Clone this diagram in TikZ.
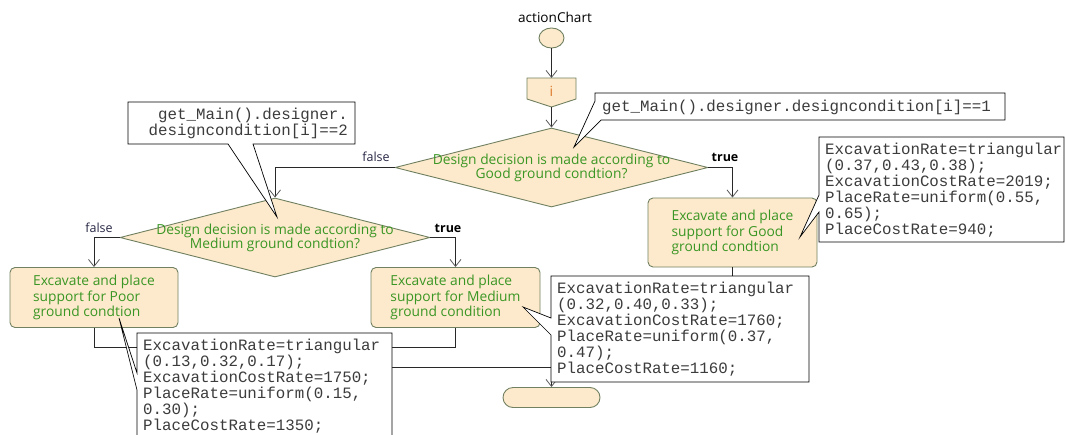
\documentclass[tikz,border=0pt]{standalone}
\usepackage{fontspec}
\setmainfont{Open Sans}
\newfontfamily\monof{Liberation Mono}
\usetikzlibrary{shapes.geometric,arrows.meta}
\definecolor{fillc}{RGB}{253,234,204}
\definecolor{bordc}{RGB}{112,128,96}
\definecolor{txtg}{RGB}{58,150,36}
\definecolor{linec}{RGB}{40,40,40}
\definecolor{arrc}{RGB}{90,90,90}
\definecolor{falsec}{RGB}{40,40,70}
\definecolor{iorange}{RGB}{220,120,40}
\definecolor{ctxt}{RGB}{60,60,60}
\begin{document}
\begin{tikzpicture}[x=1pt,y=-1pt,
  flowline/.style={draw=linec, line width=0.9pt},
  arr/.style={flowline, -{Straight Barb[length=7pt,width=11pt,line width=0.8pt,color=arrc]}},
  shapebase/.style={draw=bordc, fill=fillc, line width=0.9pt},
  actionbox/.style={shapebase, rounded corners=5pt, minimum width=168, minimum height=60, inner sep=0, align=left, text=txtg, font=\fontsize{13.8}{15.8}\selectfont},
  decision/.style={shapebase, diamond, inner sep=0, minimum width=313, minimum height=79},
  dtext/.style={text=txtg, align=center, font=\fontsize{13.8}{14.5}\selectfont},
  lbl/.style={font=\fontsize{12.5}{14}\selectfont},
  callout/.style={draw=black, fill=white, line width=0.7pt},
  ctext/.style={font=\monof\fontsize{15.8}{16}\selectfont, text=ctxt, align=left, inner sep=0}
]
\useasboundingbox (0,0) rectangle (1065,434);
\clip (0,0) rectangle (1065,434);

% title and start
\node[font=\fontsize{13.6}{15}\selectfont] (title) at (555,17) {actionChart};
\node[shapebase, ellipse, minimum width=25, minimum height=20, inner sep=0] (start) at (551.5,38) {};

% i box
\path[shapebase] (527,78) -- (576,78) -- (576,99) -- (551.5,107) -- (527,99) -- cycle;
\coordinate (iTop) at (551.5,78);
\coordinate (iBot) at (551.5,107);
\node[text=iorange, font=\fontsize{14}{16}\selectfont] (ival) at (551.5,91) {i};

% decisions
\node[decision] (d1) at (551.5,167.5) {};
\node[dtext] (d1t) at (551.5,168) {Design decision is made according to\\Good ground condtion?};
\node[decision, minimum width=310] (d2) at (275,237.5) {};
\node[dtext] (d2t) at (275,238) {Design decision is made according to\\Medium ground condtion?};

% action boxes
\node[actionbox] (poor) at (94,297.5) {Excavate and place\\support for Poor\\ground condtion};
\node[actionbox, minimum width=169] (medium) at (455.5,297.5) {Excavate and place\\support for Medium\\ground condition};
\node[actionbox, minimum width=169, minimum height=69] (good) at (732.5,232.5) {Excavate and place\\support for Good\\ground condtion};

% end
\node[shapebase, rounded corners=10pt, minimum width=97, minimum height=20, inner sep=0] (end) at (551.5,397.5) {};

% merge points
\coordinate (m1) at (275,347);
\coordinate (m2) at (275,367);
\coordinate (m3) at (551.5,367);

% connectors
\draw[arr] (start.south) -- (iTop);
\draw[arr] (iBot) -- (d1.north);
\draw[arr] (d1.west) -| (d2.north);
\draw[arr] (d1.east) -| (good.north);
\draw[arr] (d2.west) -| (poor.north);
\draw[arr] (d2.east) -| (medium.north);
\draw[flowline] (poor.south) |- (m1);
\draw[flowline] (medium.south) |- (m1);
\draw[flowline] (m1) -- (m2);
\draw[flowline] (good.south) |- (m3);
\draw[arr] (m2) -| (end.north);

% branch labels
\node[lbl, text=falsec] (f1) at (376,157) {false};
\node[lbl, font=\fontsize{12.5}{14}\selectfont\bfseries] (t1) at (725,157) {true};
\node[lbl, text=falsec] (f2) at (99,228) {false};
\node[lbl, font=\fontsize{12.5}{14}\selectfont\bfseries] (t2) at (448,228) {true};

% callouts
\draw[callout] (595,93) -- (1005,93) -- (1005,120) -- (601,120) -- (574,147) -- (595,101) -- cycle;
\node[ctext, anchor=west] (c1t) at (602,107) {get\_Main().designer.designcondition[i]==1};

\draw[callout] (128,102) -- (355,102) -- (355,144) -- (253,144) -- (277,217) -- (228,144) -- (128,144) -- cycle;
\node[ctext, anchor=east, align=right] (c2t) at (348,123.5) {get\_Main().designer.\\designcondition[i]==2};

\draw[callout] (819,137) -- (1064,137) -- (1064,242) -- (819,242) -- (819,212) -- (800,237) -- (819,195) -- cycle;
\node[ctext, anchor=west] (cgt) at (825,190) {ExcavationRate=triangular\\(0.37,0.43,0.38);\\ExcavationCostRate=2019;\\PlaceRate=uniform(0.55,\\0.65);\\PlaceCostRate=940;};

\draw[callout] (551,276) -- (809,276) -- (809,382) -- (551,382) -- (551,335) -- (523,307) -- (551,318) -- cycle;
\node[ctext, anchor=west] (cmt) at (557,329) {ExcavationRate=triangular\\(0.32,0.40,0.33);\\ExcavationCostRate=1760;\\PlaceRate=uniform(0.37,\\0.47);\\PlaceCostRate=1160;};

\draw[callout] (137,333) -- (392,333) -- (392,439) -- (137,439) -- (137,390) -- (119,318) -- (137,373) -- cycle;
\node[ctext, anchor=west] (cpt) at (143,386) {ExcavationRate=triangular\\(0.13,0.32,0.17);\\ExcavationCostRate=1750;\\PlaceRate=uniform(0.15,\\0.30);\\PlaceCostRate=1350;};
\end{tikzpicture}
\end{document}
